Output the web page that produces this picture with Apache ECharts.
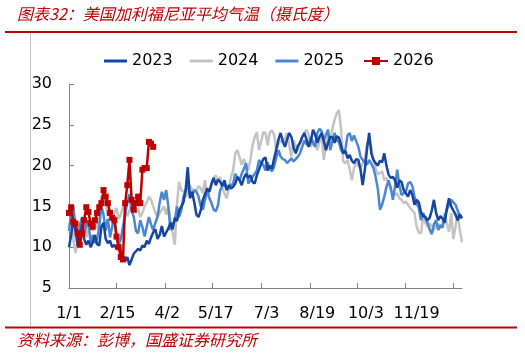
<!DOCTYPE html>
<html>
<head>
<meta charset="utf-8">
<script src="https://cdn.jsdelivr.net/npm/echarts@6/dist/echarts.min.js"></script>
<style>
html, body { margin: 0; padding: 0; background: #fff; }
#chart { width: 525px; height: 353px; }
</style>
</head>
<body>
<div id="chart"></div>
<script>
// 每两天一个点，横轴为一年中的第几天（0 = 1/1）
var dayStep = 2;

// 横轴标签及其所在的天数
var tickLabels = ['1/1', '2/15', '4/2', '5/17', '7/3', '8/19', '10/3', '11/19'];
var labelDays = [0, 45, 91, 136, 183, 230, 275, 322];
// 刻度线位置（与标签不完全对齐）
var tickDays = [44, 89, 133, 178, 223, 267, 311, 356];

var t2023 = [
    10.0, 11.5, 13.5, 12.0, 10.2, 10.5, 12.8, 11.0, 10.3, 10.8, 10.0, 10.6, 11.5, 10.4, 10.2, 12.5,
    13.0, 11.0, 10.5, 10.8, 10.0, 10.3, 9.8, 10.2, 9.5, 9.0, 8.3, 8.8, 7.8, 8.5,
    9.2, 9.5, 9.8, 9.6, 10.2, 10.0, 10.8, 10.4, 11.2, 11.8, 12.2, 11.0, 11.5, 12.6, 11.3, 11.8,
    12.3, 13.0, 12.2, 13.6, 13.2, 14.5, 15.0, 15.5, 17.0, 19.8, 16.0, 16.8, 15.5, 14.0, 13.7,
    14.5, 15.8, 16.5, 17.2, 16.8, 17.8, 18.5, 17.6, 18.3, 18.0, 17.5, 18.2, 17.0, 17.6, 17.2,
    17.4, 17.8, 18.6, 18.2, 17.6, 18.5, 19.0, 18.5, 18.8, 18.0, 17.8, 18.8, 19.5, 20.2, 20.8,
    21.0, 19.4, 20.0, 19.6, 20.9, 22.0, 23.2, 24.0, 23.0, 22.3, 23.2, 24.0, 23.5, 22.2, 21.5, 22.4,
    22.8, 23.5, 24.0, 23.2, 22.3, 23.0, 24.4, 23.8, 22.8, 23.5, 24.0, 23.0, 21.9, 22.8, 23.5,
    23.5, 22.8, 23.6, 23.4, 22.5, 21.5, 21.8, 20.9, 21.3, 20.6, 20.3, 20.8, 20.7, 19.5, 17.6,
    19.5, 22.0, 24.0, 21.5, 20.7, 20.3, 20.0, 20.6, 20.4, 21.5, 20.0, 18.9, 18.5, 18.6, 18.2,
    17.3, 18.2, 18.0, 17.0, 16.6, 16.2, 17.0, 16.4, 15.2, 15.8, 15.5, 14.3, 13.8, 13.7, 13.3,
    13.6, 14.5, 15.8, 14.2, 13.3, 13.8, 13.5, 13.0, 14.8, 16.0, 15.0, 14.5, 14.0, 13.3, 14.0, 13.6
];

var t2024 = [
    12.5, 13.8, 11.0, 9.3, 10.5, 12.8, 13.5, 12.0, 11.2, 12.5, 13.2, 12.0, 13.0, 12.3, 14.2, 16.2,
    16.0, 15.2, 13.8, 14.5, 13.6, 14.2, 14.8, 13.5, 14.0, 15.0, 14.6, 13.8, 14.5, 15.2,
    14.6, 14.2, 14.8, 13.7, 14.2, 15.0, 15.5, 16.2, 15.8, 15.0, 14.2, 13.7, 14.2, 14.6, 15.0, 14.0,
    15.0, 13.3, 11.8, 10.3, 15.4, 18.0, 17.0, 16.8, 16.2, 16.6, 17.6, 17.0, 16.8, 17.0, 17.5,
    17.2, 16.6, 18.2, 16.2, 16.8, 17.4, 18.5, 18.8, 18.2, 18.6, 17.2, 16.6, 16.0, 17.2, 18.6,
    19.4, 21.5, 21.9, 21.0, 20.1, 20.8, 20.0, 19.4, 20.7, 22.5, 23.5, 24.1, 21.9, 23.0, 24.1,
    24.0, 22.5, 24.1, 24.3, 23.8, 21.9, 22.6, 23.1, 22.8, 23.3, 24.0, 22.5, 21.1, 23.1, 22.4, 21.9,
    22.8, 23.5, 24.0, 24.4, 23.8, 22.3, 23.1, 22.8, 21.9, 23.0, 23.5, 20.7, 22.5, 24.0, 23.1,
    24.5, 25.6, 26.4, 26.8, 24.4, 20.5, 20.3, 20.7, 19.5, 18.2, 19.7, 20.4, 20.0, 19.7, 20.3,
    20.7, 22.7, 23.1, 22.3, 20.5, 19.7, 18.9, 19.1, 19.3, 18.2, 18.5, 17.8, 17.0, 16.8, 16.4,
    16.6, 16.0, 15.8, 15.4, 15.6, 15.2, 14.8, 14.5, 14.2, 12.5, 11.8, 11.7, 13.7, 13.0, 12.5,
    12.9, 12.6, 12.1, 12.6, 12.9, 12.3, 13.0, 14.2, 12.8, 11.9, 14.2, 11.0, 12.5, 14.2, 12.1, 10.6
];

var t2025 = [
    12.0, 14.0, 15.0, 12.5, 10.8, 12.5, 13.7, 11.3, 12.8, 13.3, 10.5, 11.5, 10.5, 11.0, 12.5, 15.0,
    14.0, 12.0, 13.5, 11.2, 12.5, 13.8, 11.5, 10.3, 11.0, 12.5, 14.0, 15.5, 16.5, 14.5,
    13.7, 12.0, 11.7, 13.3, 12.5, 11.3, 12.5, 13.7, 12.8, 12.1, 13.0, 13.7, 15.5, 16.8, 15.8, 17.0,
    15.0, 12.1, 12.8, 13.3, 15.0, 13.7, 14.5, 16.2, 16.8, 17.9, 16.5, 16.2, 17.0, 16.8, 16.2,
    15.0, 14.6, 15.8, 17.0, 16.0, 15.4, 14.6, 14.4, 15.2, 17.0, 17.5, 17.8, 17.0, 17.3, 17.6,
    17.8, 19.0, 18.5, 18.2, 19.0, 19.6, 20.3, 17.8, 18.2, 18.6, 19.0, 19.4, 20.7, 20.3, 20.1,
    19.4, 20.4, 19.6, 19.3, 19.9, 21.0, 21.9, 21.1, 20.8, 20.7, 20.3, 20.6, 20.9, 20.5, 20.8, 21.1,
    21.5, 22.3, 23.1, 22.6, 22.5, 23.5, 22.8, 22.3, 24.0, 24.5, 24.2, 23.1, 23.8, 24.4, 21.9,
    23.0, 24.0, 23.1, 22.9, 21.9, 21.5, 22.0, 23.7, 24.0, 23.0, 23.7, 23.0, 22.3, 21.1, 20.7,
    20.4, 20.1, 20.7, 20.2, 19.7, 18.6, 17.2, 14.6, 15.2, 16.2, 17.4, 18.2, 17.3, 15.8, 17.5,
    19.5, 17.6, 16.4, 16.6, 16.8, 17.8, 18.0, 17.5, 16.2, 15.4, 14.8, 13.3, 14.2, 13.6, 13.0,
    12.2, 11.6, 12.8, 13.3, 12.1, 12.7, 12.4, 13.7, 14.6, 15.2, 15.8, 15.5, 15.2, 14.5, 13.8, 13.5
];

var t2026 = [
    14.2, 14.9, 13.1, 12.9, 11.7, 10.3, 11.7, 13.3, 14.9, 14.3,
    12.9, 12.5, 13.3, 14.2, 14.9, 15.4, 17.0, 16.2, 15.4, 14.2,
    13.6, 13.3, 11.3, 10.0, 8.8, 8.5, 15.4, 17.6, 20.7, 15.8,
    14.6, 15.4, 16.2, 15.4, 19.5, 19.7, 19.7, 22.9, 22.7, 22.3
];

function toPairs(arr) {
    return arr.map(function (v, i) {
        return [i * dayStep, v];
    });
}

var dom = document.getElementById('chart');
var myChart = echarts.init(dom);

var axisColor = '#808080';
var labelFont = 'DejaVu Sans';
var legendText = {fontSize: 16, fontFamily: labelFont, color: '#000'};

var option = {
    animation: false,
    backgroundColor: '#fff',
    graphic: [
        {
            type: 'text', left: 17, top: 6,
            style: {
                text: '图表32：美国加利福尼亚平均气温（摄氏度）',
                font: 'italic 16px "Noto Sans CJK SC"',
                fill: '#C00000'
            }
        },
        {
            type: 'line',
            shape: {x1: 5, y1: 32, x2: 517, y2: 32},
            style: {stroke: '#C00000', lineWidth: 2}
        },
        {
            type: 'line',
            shape: {x1: 30.5, y1: 33, x2: 30.5, y2: 326},
            style: {stroke: '#BFBFBF', lineWidth: 1}
        },
        {
            type: 'line',
            shape: {x1: 5, y1: 327.5, x2: 517, y2: 327.5},
            style: {stroke: '#C00000', lineWidth: 2}
        },
        {
            type: 'text', left: 17, top: 332,
            style: {
                text: '资料来源：彭博，国盛证券研究所',
                font: 'italic 16px "Noto Sans CJK SC"',
                fill: '#C00000'
            }
        }
    ],
    // 前三个年份只画线段图例，2026 带方块标记
    legend: [
        {
            data: ['2023', '2024', '2025'],
            icon: 'rect',
            left: 99,
            top: 48,
            itemWidth: 23,
            itemHeight: 3,
            itemGap: 17,
            textStyle: legendText
        },
        {
            data: ['2026'],
            left: 358,
            top: 48,
            itemWidth: 24,
            itemHeight: 10,
            textStyle: legendText
        }
    ],
    grid: {
        left: 69,
        right: 63,
        top: 84,
        bottom: 65
    },
    xAxis: {
        type: 'value',
        min: 0,
        max: 364,
        splitLine: {show: false},
        axisLine: {lineStyle: {color: axisColor}},
        axisTick: {
            inside: true,
            length: 5,
            customValues: tickDays,
            lineStyle: {color: axisColor}
        },
        axisLabel: {
            customValues: labelDays,
            margin: 18,
            fontSize: 16,
            fontFamily: labelFont,
            color: '#000',
            formatter: function (value) {
                var idx = labelDays.indexOf(value);
                return idx >= 0 ? tickLabels[idx] : '';
            }
        }
    },
    yAxis: {
        type: 'value',
        min: 5,
        max: 30,
        interval: 5,
        splitLine: {show: false},
        axisLine: {show: true, lineStyle: {color: axisColor}},
        axisTick: {show: true, inside: true, length: 5, lineStyle: {color: axisColor}},
        axisLabel: {
            margin: 17,
            fontSize: 16,
            fontFamily: labelFont,
            color: '#000'
        }
    },
    series: [
        {
            name: '2023',
            type: 'line',
            data: toPairs(t2023),
            symbol: 'none',
            z: 3,
            itemStyle: {color: '#1446A0'},
            lineStyle: {color: '#1446A0', width: 2.5}
        },
        {
            name: '2024',
            type: 'line',
            data: toPairs(t2024),
            symbol: 'none',
            z: 1,
            itemStyle: {color: '#C3C3C3'},
            lineStyle: {color: '#C3C3C3', width: 2.5}
        },
        {
            name: '2025',
            type: 'line',
            data: toPairs(t2025),
            symbol: 'none',
            z: 2,
            itemStyle: {color: '#4C86D0'},
            lineStyle: {color: '#4C86D0', width: 2.5}
        },
        {
            name: '2026',
            type: 'line',
            data: toPairs(t2026),
            symbol: 'rect',
            symbolSize: 6,
            showSymbol: true,
            z: 4,
            itemStyle: {color: '#C00000'},
            lineStyle: {color: '#C00000', width: 2.5}
        }
    ]
};

myChart.setOption(option);
</script>
</body>
</html>
